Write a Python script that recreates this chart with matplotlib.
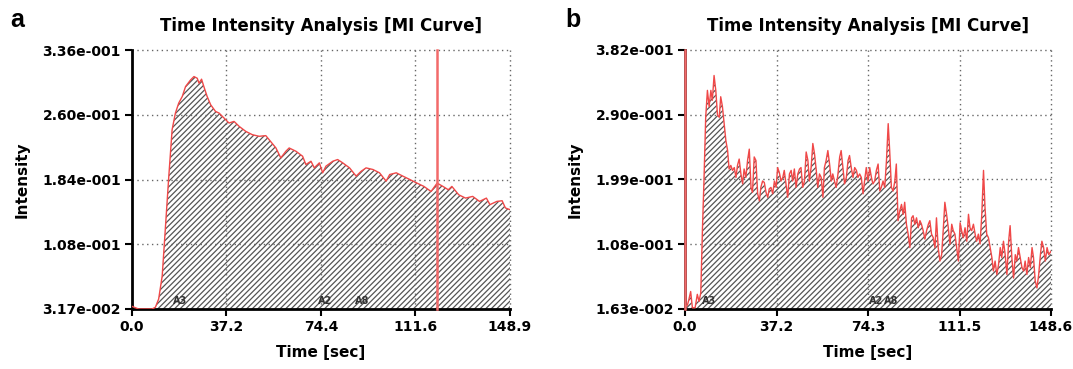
import matplotlib
matplotlib.use("Agg")
import matplotlib.pyplot as plt

# ---------------------------------------------------------------------------
# data
# ---------------------------------------------------------------------------
time_a = [0.0, 2.6, 7.9, 9.2, 10.5, 11.9, 13.2, 14.5, 15.8, 17.1,
          18.4, 19.8, 21.1, 23.1, 24.4, 25.7, 26.4, 27.4, 28.3, 29.6,
          31.0, 32.9, 34.3, 36.9, 38.2, 40.2, 42.2, 44.8, 47.4, 50.1,
          52.7, 54.0, 56.7, 58.6, 60.6, 61.9, 64.6, 67.2, 68.5, 70.5,
          71.8, 73.8, 75.1, 76.4, 79.1, 81.0, 83.0, 85.7, 88.3, 90.3,
          92.2, 94.9, 97.5, 100.1, 101.5, 104.1, 106.7, 109.4, 112.0, 115.0,
          117.8, 120.2, 122.5, 124.6, 126.0, 128.7, 131.4, 134.2, 136.9, 139.6,
          141.0, 143.7, 145.8, 147.1, 148.9]
intensity_a = [0.0348, 0.0317, 0.0317, 0.0337, 0.0434, 0.0707, 0.1292, 0.1878, 0.2424, 0.2619,
               0.2736, 0.2814, 0.2931, 0.3009, 0.3048, 0.3028, 0.2970, 0.3017, 0.2931, 0.2814,
               0.2716, 0.2638, 0.2619, 0.2541, 0.2502, 0.2521, 0.2463, 0.2404, 0.2365, 0.2346,
               0.2354, 0.2307, 0.2209, 0.2092, 0.2170, 0.2209, 0.2170, 0.2112, 0.2014, 0.2053,
               0.1975, 0.2034, 0.1917, 0.1995, 0.2053, 0.2073, 0.2034, 0.1975, 0.1878, 0.1936,
               0.1975, 0.1956, 0.1917, 0.1819, 0.1897, 0.1917, 0.1878, 0.1839, 0.1800, 0.1757,
               0.1698, 0.1796, 0.1757, 0.1718, 0.1757, 0.1659, 0.1620, 0.1640, 0.1581, 0.1620,
               0.1543, 0.1581, 0.1589, 0.1504, 0.1484]

time_b = [0.0, 1.0, 1.6, 2.3, 3.0, 4.1, 5.0, 5.7, 6.4, 7.1,
          7.7, 8.4, 9.1, 9.8, 10.5, 11.1, 11.8, 12.5, 13.2, 13.9,
          14.5, 15.2, 15.9, 16.6, 17.3, 17.9, 18.6, 19.3, 20.0, 20.7,
          21.3, 22.0, 22.7, 23.4, 24.0, 24.7, 25.4, 26.1, 26.8, 27.4,
          28.1, 28.8, 29.5, 30.2, 30.8, 31.5, 32.2, 32.9, 33.6, 34.2,
          34.9, 35.6, 36.3, 37.0, 37.6, 38.3, 39.0, 39.7, 40.3, 41.0,
          41.7, 42.4, 43.1, 43.7, 44.4, 45.1, 45.8, 46.5, 47.1, 47.8,
          48.5, 49.2, 49.9, 50.5, 51.2, 51.9, 52.6, 53.3, 53.9, 54.6,
          55.3, 56.0, 56.6, 57.3, 58.0, 58.7, 59.4, 60.0, 60.7, 61.4,
          62.1, 62.8, 63.4, 64.1, 64.8, 65.5, 66.2, 66.8, 67.5, 68.2,
          68.9, 69.6, 70.2, 70.9, 71.6, 72.3, 72.9, 73.6, 74.3, 75.0,
          75.7, 76.3, 77.0, 77.7, 78.4, 79.1, 79.7, 80.4, 81.1, 81.8,
          82.5, 83.1, 83.8, 84.5, 85.2, 85.8, 86.5, 87.2, 87.9, 88.6,
          89.2, 89.9, 90.6, 91.3, 92.0, 92.6, 93.3, 94.0, 94.7, 95.4,
          96.0, 96.7, 97.4, 98.1, 98.8, 99.4, 100.1, 100.8, 101.5, 102.1,
          102.8, 103.5, 104.2, 104.9, 105.5, 106.2, 106.9, 107.6, 108.3, 108.9,
          109.6, 110.3, 111.0, 111.7, 112.3, 113.0, 113.7, 114.4, 115.1, 115.7,
          116.4, 117.1, 117.8, 118.4, 119.1, 119.8, 120.5, 121.2, 121.8, 122.5,
          123.2, 123.9, 124.6, 125.2, 125.9, 126.6, 127.3, 128.0, 128.6, 129.3,
          130.0, 130.7, 131.4, 132.0, 132.7, 133.4, 134.1, 134.7, 135.4, 136.1,
          136.8, 137.5, 138.1, 138.8, 139.5, 140.2, 140.9, 141.5, 142.2, 142.9,
          143.6, 144.3, 144.9, 145.6, 146.3, 147.0, 147.7, 148.6]
intensity_b = [0.018, 0.022, 0.030, 0.041, 0.018, 0.018, 0.037, 0.027, 0.039, 0.131,
               0.197, 0.287, 0.325, 0.302, 0.325, 0.311, 0.346, 0.325, 0.290, 0.287,
               0.316, 0.302, 0.278, 0.254, 0.240, 0.214, 0.219, 0.212, 0.216, 0.202,
               0.219, 0.228, 0.207, 0.193, 0.214, 0.202, 0.226, 0.242, 0.188, 0.181,
               0.231, 0.226, 0.179, 0.169, 0.188, 0.197, 0.195, 0.181, 0.174, 0.186,
               0.188, 0.179, 0.197, 0.188, 0.216, 0.209, 0.197, 0.202, 0.212, 0.193,
               0.174, 0.207, 0.212, 0.197, 0.214, 0.188, 0.207, 0.214, 0.216, 0.188,
               0.197, 0.238, 0.226, 0.197, 0.216, 0.250, 0.235, 0.212, 0.188, 0.207,
               0.202, 0.174, 0.216, 0.226, 0.240, 0.221, 0.197, 0.207, 0.197, 0.188,
               0.207, 0.231, 0.240, 0.216, 0.193, 0.202, 0.226, 0.233, 0.216, 0.202,
               0.216, 0.212, 0.202, 0.207, 0.202, 0.179, 0.197, 0.216, 0.197, 0.216,
               0.202, 0.193, 0.197, 0.212, 0.221, 0.183, 0.188, 0.197, 0.188, 0.226,
               0.278, 0.240, 0.188, 0.183, 0.197, 0.221, 0.141, 0.155, 0.164, 0.150,
               0.167, 0.136, 0.122, 0.103, 0.145, 0.148, 0.136, 0.145, 0.131, 0.141,
               0.136, 0.127, 0.115, 0.127, 0.136, 0.141, 0.122, 0.117, 0.103, 0.145,
               0.103, 0.084, 0.093, 0.131, 0.167, 0.150, 0.131, 0.108, 0.136, 0.127,
               0.122, 0.103, 0.084, 0.138, 0.127, 0.117, 0.131, 0.112, 0.150, 0.131,
               0.127, 0.136, 0.122, 0.112, 0.122, 0.108, 0.150, 0.212, 0.160, 0.122,
               0.117, 0.103, 0.089, 0.070, 0.084, 0.065, 0.079, 0.103, 0.089, 0.112,
               0.093, 0.065, 0.112, 0.134, 0.089, 0.060, 0.093, 0.084, 0.103, 0.089,
               0.075, 0.070, 0.084, 0.065, 0.089, 0.075, 0.103, 0.089, 0.056, 0.046,
               0.065, 0.093, 0.112, 0.103, 0.084, 0.103, 0.093, 0.098]

# axis ranges and tick labels as printed by the analysis software
ylim_a = (0.0317, 0.336)
ylim_b = (0.0163, 0.382)
xticks_a = [0.0, 37.2, 74.4, 111.6, 148.9]
xticks_b = [0.0, 37.2, 74.3, 111.5, 148.6]
yticklabels_a = ["3.17e-002", "1.08e-001", "1.84e-001", "2.60e-001", "3.36e-001"]
yticklabels_b = ["1.63e-002", "1.08e-001", "1.99e-001", "2.90e-001", "3.82e-001"]
marker_a = 120.2
marker_b = 0.0
# region labels along the baseline (name, time)
regions_a = [("A3", 19.1), ("A2", 76.2), ("A8", 90.5)]
regions_b = [("A3", 9.6), ("A2", 77.6), ("A8", 83.8)]

RED = "#f04848"
HATCH = "#555555"
GRID = "#666666"
DOTS = (0, (1, 2.5))

plt.rcParams["hatch.linewidth"] = 0.9

fig = plt.figure(figsize=(10.73, 3.69), dpi=100)
ax_a = fig.add_axes([132 / 1073, 60 / 369, 378 / 1073, 259 / 369])
ax_b = fig.add_axes([685 / 1073, 60 / 369, 366 / 1073, 259 / 369])


def draw_panel(ax, t, v, ylim, xticks, ylabels, marker, regions, letter, letter_x):
    ymin, ymax = ylim
    ax.fill_between(t, v, ymin, facecolor="white", edgecolor=HATCH,
                    hatch="//////", linewidth=0, zorder=1)
    ax.plot(t, v, color=RED, linewidth=1.0, zorder=3)
    ax.axvline(marker, color="#f26a6a", linewidth=1.8, zorder=5, clip_on=False)

    ax.set_xlim(xticks[0], xticks[-1])
    ax.set_ylim(ymin, ymax)
    ax.set_xticks(xticks)
    ax.set_xticklabels([f"{x:.1f}" for x in xticks])
    yt = [ymin + (ymax - ymin) * i / 4 for i in range(5)]
    ax.set_yticks(yt)
    ax.set_yticklabels(ylabels)

    ax.spines["top"].set_visible(False)
    ax.spines["right"].set_visible(False)
    ax.spines["left"].set_linewidth(2)
    ax.spines["bottom"].set_linewidth(2)
    ax.tick_params(axis="both", direction="out", length=5, width=1.5,
                   labelsize=10, pad=3)
    for lab in ax.get_xticklabels() + ax.get_yticklabels():
        lab.set_fontweight("bold")

    # dotted grid on the inner ticks plus the top and right frame
    for x in xticks[1:]:
        ax.axvline(x, color=GRID, linestyle=DOTS, linewidth=1.0, zorder=2, clip_on=False)
    for y in yt[1:]:
        ax.axhline(y, color=GRID, linestyle=DOTS, linewidth=1.0, zorder=2, clip_on=False)

    for name, x in regions:
        ax.text(x, ymin + (ymax - ymin) * 0.01, name, fontsize=7, fontweight="bold",
                color="#333333", ha="center", va="bottom", zorder=6)

    ax.set_title("Time Intensity Analysis [MI Curve]", fontsize=12,
                 fontweight="bold", pad=14)
    ax.set_xlabel("Time [sec]", fontsize=11, fontweight="bold", labelpad=8)
    ax.set_ylabel("Intensity", fontsize=11, fontweight="bold", labelpad=9)
    fig.text(letter_x, 0.945, letter, fontsize=18, fontweight="bold",
             family="Liberation Sans", ha="left", va="center")


draw_panel(ax_a, time_a, intensity_a, ylim_a, xticks_a, yticklabels_a,
           marker_a, regions_a, "a", 10 / 1073)
draw_panel(ax_b, time_b, intensity_b, ylim_b, xticks_b, yticklabels_b,
           marker_b, regions_b, "b", 565 / 1073)

fig.savefig("out.png", dpi=100)
